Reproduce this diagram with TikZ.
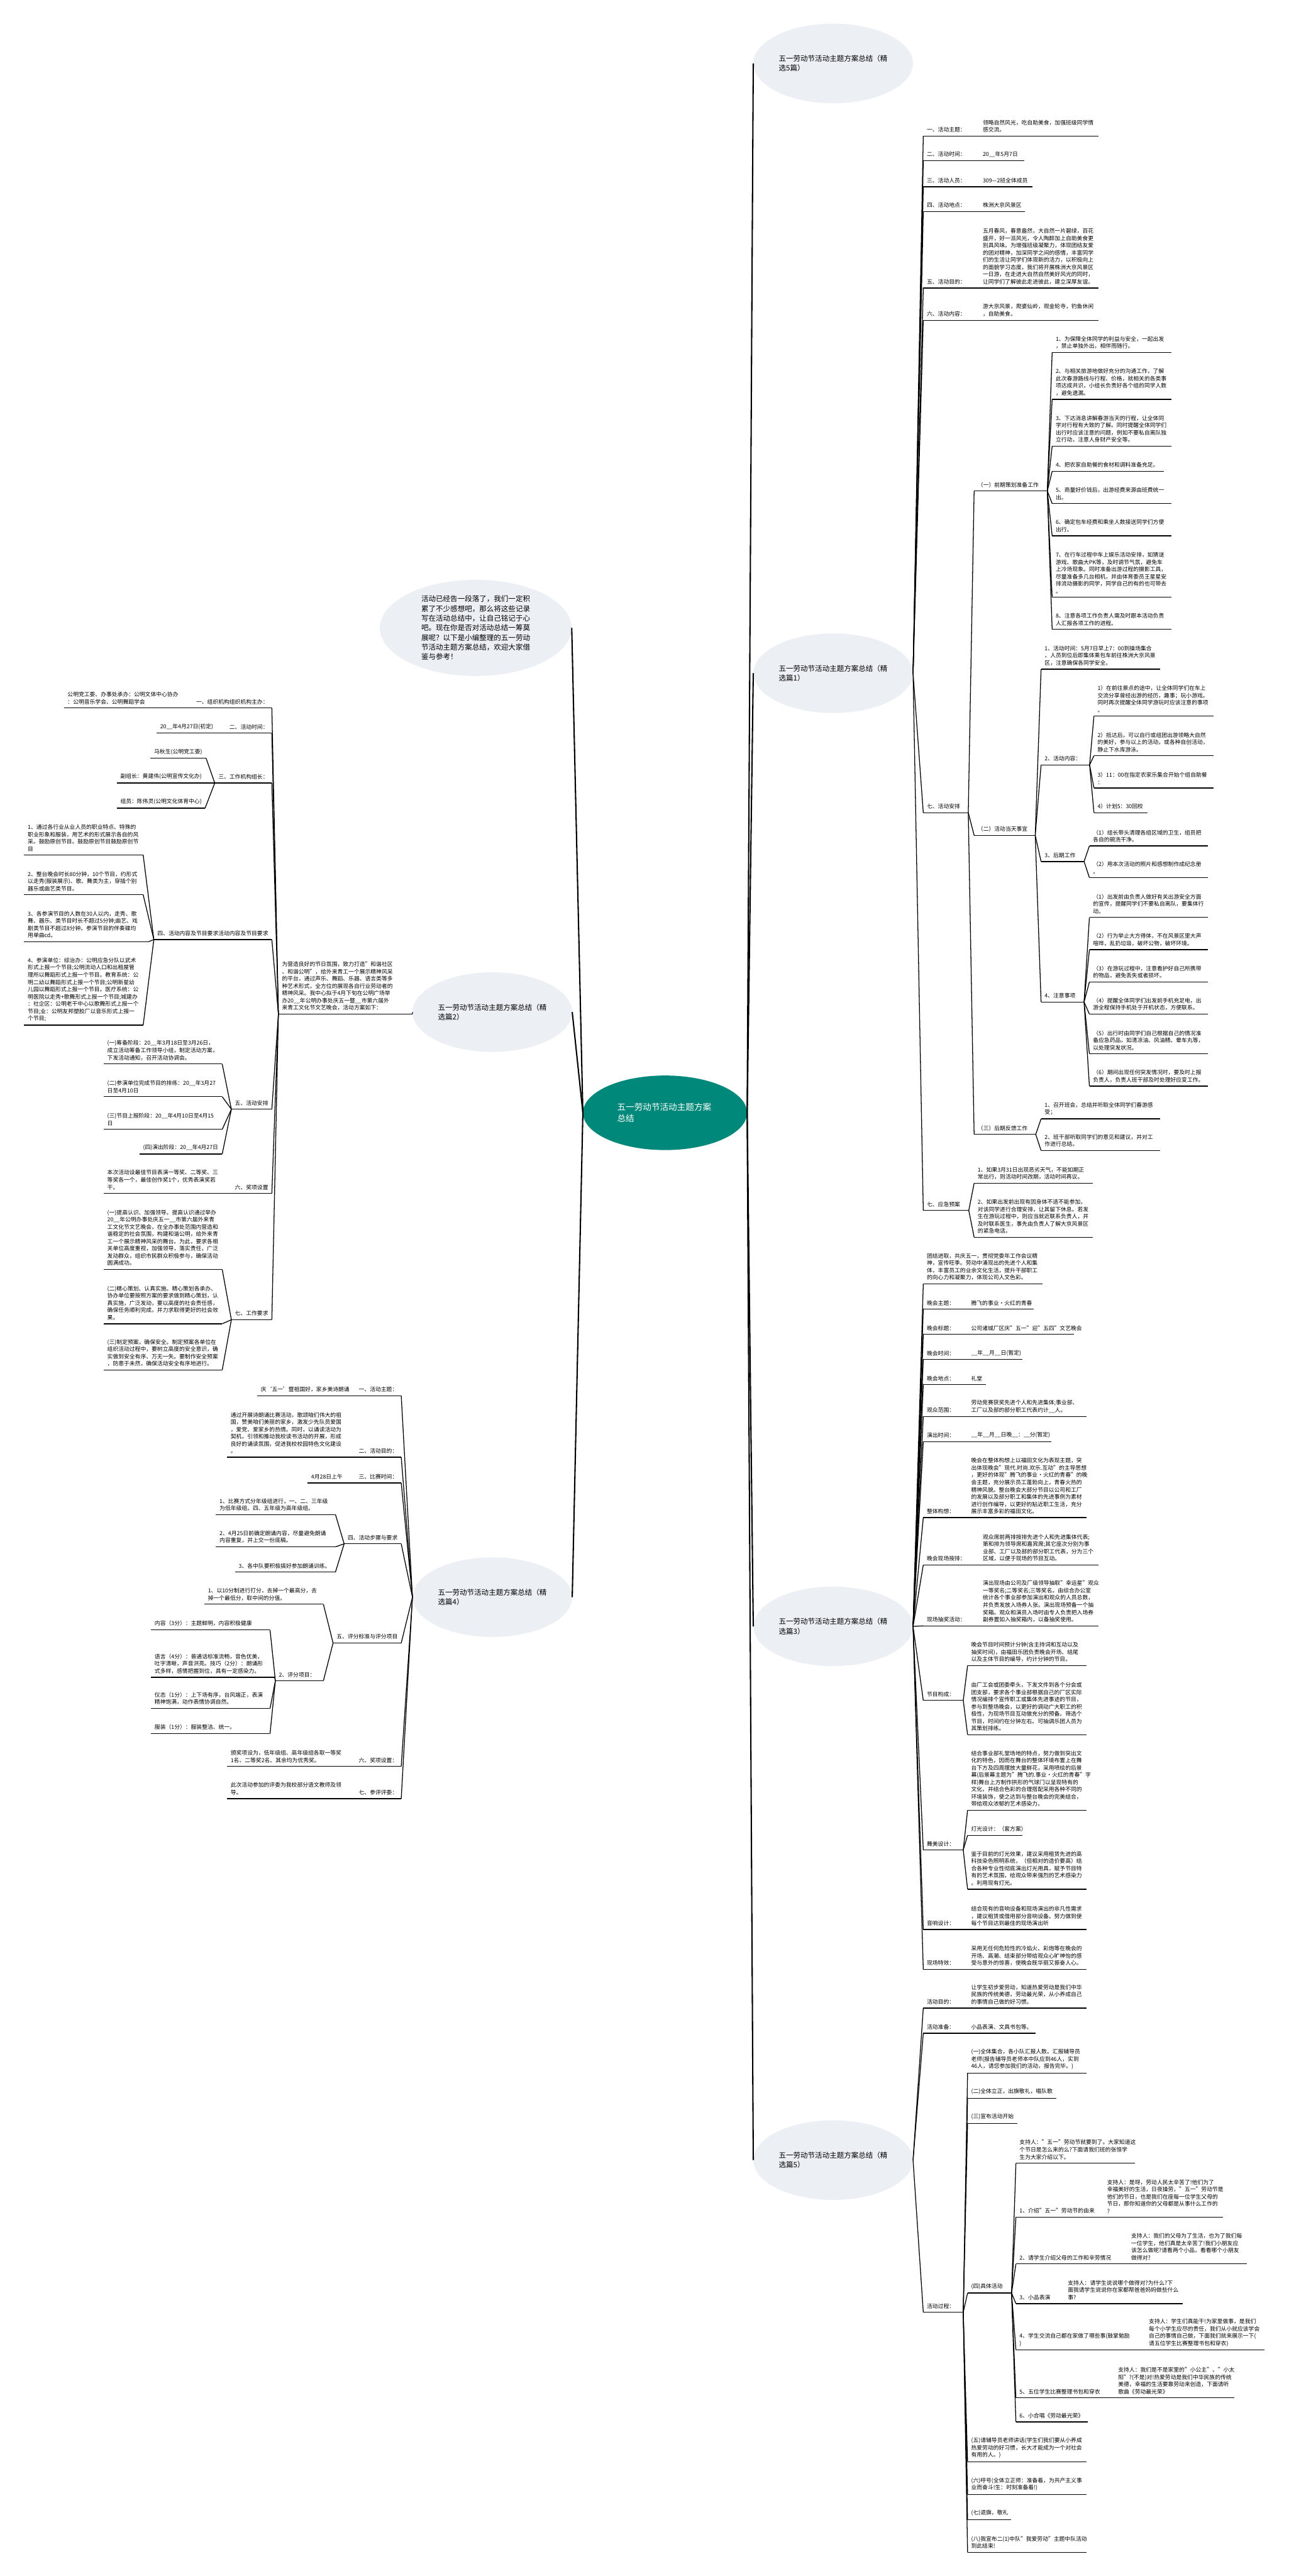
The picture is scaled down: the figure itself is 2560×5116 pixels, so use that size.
\documentclass[tikz,border=0pt]{standalone}
\usepackage{fontspec}
\setmainfont{Noto Sans CJK SC}
\usetikzlibrary{shapes.geometric}
\newcommand\leaftext{\fontsize{11}{14.4}\selectfont}
\newcommand\topictext{\fontsize{14.4}{19.1}\selectfont}
\newcommand\roottext{\fontsize{17}{22}\selectfont}
\definecolor{bubble}{RGB}{236,239,243}
\definecolor{rootfill}{RGB}{0,137,123}
\tikzset{
  rn/.style={anchor=south west, inner xsep=7pt, inner ysep=7pt, align=left, font=\leaftext},
  ln/.style={anchor=south east, inner xsep=7pt, inner ysep=7pt, align=right, font=\leaftext},
  topic/.style={ellipse, fill=bubble, minimum width=317pt, minimum height=158pt, text width=216pt, align=left, font=\topictext, inner sep=1pt},
  link/.style={line width=1.6pt},
  trunk/.style={line width=2.6pt},
}
\begin{document}
\begin{tikzpicture}[x=1pt,y=-1pt]
\fill[white] (0,0) rectangle (2560,5116);
\useasboundingbox (0,0) rectangle (2560,5116);

% centre and branches
\node[ellipse, fill=rootfill, text=white, minimum width=326pt, minimum height=148pt, text width=190pt, align=left, font=\roottext] (root) at (1321,2210) {五一劳动节活动主题方案\\总结};
\node[ellipse, fill=bubble, minimum width=381pt, minimum height=191pt, text width=216pt, align=left, font=\topictext, inner sep=1pt] (intro) at (945,1247) {活动已经告一段落了，我们一定积\\累了不少感想吧，那么将这些记录\\写在活动总结中，让自己铭记于心\\吧。现在你是否对活动总结一筹莫\\展呢？以下是小编整理的五一劳动\\节活动主题方案总结，欢迎大家借\\鉴与参考！};
\node[topic] (b0) at (1655,126) {五一劳动节活动主题方案总结（精\\选5篇）};
\node[topic] (b1) at (1655,1337) {五一劳动节活动主题方案总结（精\\选篇1）};
\node[topic] (b2) at (978,2010) {五一劳动节活动主题方案总结（精\\选篇2）};
\node[topic] (b3) at (1655,3230) {五一劳动节活动主题方案总结（精\\选篇3）};
\node[topic] (b4) at (978,3172) {五一劳动节活动主题方案总结（精\\选篇4）};
\node[topic] (b5) at (1655,4290) {五一劳动节活动主题方案总结（精\\选篇5）};
\foreach \b in {b0,b1,b3,b5} \draw[trunk] (root.east) -- (\b.west);
\foreach \b in {intro,b2,b4} \draw[trunk] (root.west) -- (\b.east);

% branch 1
\node[rn, text width=90pt] (k1a) at (1834,270) {一、活动主题：};
\node[rn, text width=223pt] (k1av) at (1945,270) {领略自然风光，吃自助美食，加强班级同学情\\感交流。};
\node[rn, text width=90pt] (k1b) at (1834,319) {二、活动时间：};
\node[rn, text width=75pt] (k1bv) at (1945,319) {20\_\_年5月7日};
\node[rn, text width=90pt] (k1c) at (1834,371) {三、活动人员：};
\node[rn, text width=92pt] (k1cv) at (1945,371) {309—2班全体成员};
\node[rn, text width=90pt] (k1d) at (1834,420) {四、活动地点：};
\node[rn, text width=77pt] (k1dv) at (1945,420) {株洲大京风景区};
\node[rn, text width=90pt] (k1e) at (1834,572) {五、活动目的：};
\node[rn, text width=223pt] (k1ev) at (1945,572) {五月春风，春意盎然，大自然一片碧绿，百花\\盛开，好一派风光，令人陶醉加上自助美食更\\别具风味。为增强班级凝聚力，体现团结友爱\\的团对精神，加深同学之间的感情，丰富同学\\们的生活让同学们体现新的活力，以积极向上\\的面貌学习态度，我们将开展株洲大京风景区\\一日游，在走进大自然自然美好风光的同时，\\让同学们了解彼此走进彼此，建立深厚友谊。};
\node[rn, text width=90pt] (k1f) at (1834,636) {六、活动内容：};
\node[rn, text width=223pt] (k1fv) at (1945,636) {游大京风景，爬婆仙岭，观金轮寺，钓鱼休闲\\，自助美食。};
\node[rn, text width=75pt] (k1g) at (1834,1614) {七、活动安排};
\node[rn, text width=131pt] (k1g1) at (1935,975) {（一）前期策划准备工作};
\node[rn, text width=222pt] (k1g1a) at (2090,700) {1、为保障全体同学的利益与安全，一起出发\\，禁止单独外出，相伴而随行。};
\node[rn, text width=222pt] (k1g1b) at (2090,793) {2、与相关旅游地做好充分的沟通工作，了解\\此次春游路线与行程、价格，就相关的各类事\\项达成共识，小组长负责好各个组的同学人数\\，避免遗漏。};
\node[rn, text width=222pt] (k1g1c) at (2090,886) {3、下达消息讲解春游当天的行程，让全体同\\学对行程有大致的了解。同时提醒全体同学们\\出行时应该注意的问题，例如不要私自离队独\\立行动，注意人身财产安全等。};
\node[rn, text width=207pt] (k1g1d) at (2090,936) {4、把农家自助餐的食材和调料准备充足。};
\node[rn, text width=222pt] (k1g1e) at (2090,1000) {5、商量好价钱后，出游经费来源由班费统一\\出。};
\node[rn, text width=222pt] (k1g1f) at (2090,1064) {6、确定包车经费和乘坐人数接送同学们方便\\出行。};
\node[rn, text width=222pt] (k1g1g) at (2090,1186) {7、在行车过程中车上娱乐活动安排，如猜谜\\游戏、歌曲大PK等，及时调节气氛，避免车\\上冷场现象。同时准备出游过程的摄影工具，\\尽量准备多几台相机，并由体育委员王星星安\\排流动摄影的同学，同学自己的有的也可带去\\。};
\node[rn, text width=222pt] (k1g1h) at (2090,1250) {8、注意各项工作负责人需及时跟本活动负责\\人汇报各项工作的进程。};
\node[rn, text width=107pt] (k1g2) at (1935,1659) {（二）活动当天事宜};
\node[rn, text width=222pt] (k1g2a) at (2068,1329) {1、活动时间：5月7日早上7：00到操场集合\\，人员到位后即集体乘包车前往株洲大京风景\\区，注意确保各同学安全。};
\node[rn, text width=82pt] (k1g2b) at (2068,1519) {2、活动内容：};
\node[rn, text width=223pt] (k1g2b1) at (2173,1422) {1）在前往景点的途中，让全体同学们在车上\\交流分享曾经出游的经历，趣事；玩小游戏。\\同时再次提醒全体同学游玩时应该注意的事项\\。};
\node[rn, text width=223pt] (k1g2b2) at (2173,1501) {2）抵达后，可以自行或组团出游领略大自然\\的美好，参与以上的活动，或各种自创活动，\\静止下水库游泳。};
\node[rn, text width=223pt] (k1g2b3) at (2173,1565) {3）11：00在指定农家乐集合开始个组自助餐\\：};
\node[rn, text width=92pt] (k1g2b4) at (2173,1614) {4）计划5：30回校};
\node[rn, text width=71pt] (k1g2c) at (2068,1711) {3、后期工作};
\node[rn, text width=221pt] (k1g2c1) at (2164,1680) {（1）组长带头清理各组区域的卫生，组员把\\各自的碗洗干净。};
\node[rn, text width=221pt] (k1g2c2) at (2164,1743) {（2）用本次活动的照片和感想制作成纪念册\\。};
\node[rn, text width=71pt] (k1g2d) at (2068,1990) {4、注意事项};
\node[rn, text width=221pt] (k1g2d1) at (2164,1822) {（1）出发前由负责人做好有关出游安全方面\\的宣传，提醒同学们不要私自离队，要集体行\\动。};
\node[rn, text width=221pt] (k1g2d2) at (2164,1886) {（2）行为举止大方得体，不在风景区里大声\\喧哗，乱扔垃圾，破坏公物，破坏环境。};
\node[rn, text width=221pt] (k1g2d3) at (2164,1950) {（3）在游玩过程中，注意看护好自己所携带\\的物品，避免丢失或者损坏。};
\node[rn, text width=221pt] (k1g2d4) at (2164,2014) {（4）提醒全体同学们出发前手机充足电，出\\游全程保持手机处于开机状态，方便联系。};
\node[rn, text width=221pt] (k1g2d5) at (2164,2093) {（5）出行时由同学们自己根据自己的情况准\\备应急药品，如清凉油、风油精、晕车丸等，\\以处理突发状况。};
\node[rn, text width=221pt] (k1g2d6) at (2164,2157) {（6）期间出现任何突发情况时，要及时上报\\负责人，负责人班干部及时处理好应变工作。};
\node[rn, text width=108pt] (k1g3) at (1935,2253) {（三）后期反馈工作};
\node[rn, text width=222pt] (k1g3a) at (2068,2222) {1、召开班会，总结并听取全体同学们春游感\\受；};
\node[rn, text width=222pt] (k1g3b) at (2068,2285) {2、班干部听取同学们的意见和建议，并对工\\作进行总结。};
\node[rn, text width=76pt] (k1h) at (1834,2404) {七、应急预案};
\node[rn, text width=221pt] (k1h1) at (1935,2350) {1、如果3月31日出现恶劣天气，不能如期正\\常出行，则活动时间改期，活动时间再议。};
\node[rn, text width=221pt] (k1h2) at (1935,2457) {2、如果出发前出现有因身体不适不能参加，\\对该同学进行合理安排，让其留下休息。若发\\生在游玩过程中，则应当就近联系负责人，并\\及时联系医生，事先由负责人了解大京风景区\\的紧急电话。};

% branch 3
\node[rn, text width=222pt] (k3o) at (1834,2550) {团结进取，共庆五一，贯彻党委年工作会议精\\神，宣传旺季。劳动中涌现出的先进个人和集\\体，丰富员工的业余文化生活，提升干部职工\\的向心力和凝聚力，体现公司人文色彩。};
\node[rn, text width=60pt] (k3a) at (1834,2600) {晚会主题：};
\node[rn, text width=117pt] (k3av) at (1922,2600) {腾飞的事业·火红的青春};
\node[rn, text width=60pt] (k3b) at (1834,2650) {晚会标题：};
\node[rn, text width=197pt] (k3bv) at (1922,2650) {公司诸城厂区庆"五一"迎"五四"文艺晚会};
\node[rn, text width=60pt] (k3c) at (1834,2700) {晚会时间：};
\node[rn, text width=95pt] (k3cv) at (1922,2700) {\_\_年\_\_月\_\_日(暂定)};
\node[rn, text width=60pt] (k3d) at (1834,2750) {晚会地点：};
\node[rn, text width=22pt] (k3dv) at (1922,2750) {礼堂};
\node[rn, text width=60pt] (k3e) at (1834,2813) {观众范围：};
\node[rn, text width=222pt] (k3ev) at (1922,2813) {劳动竞赛获奖先进个人和先进集体;事业部、\\工厂以及部的部分职工代表约计\_\_人。};
\node[rn, text width=60pt] (k3f) at (1834,2863) {演出时间：};
\node[rn, text width=152pt] (k3fv) at (1922,2863) {\_\_年\_\_月\_\_日晚\_\_：\_\_分(暂定)};
\node[rn, text width=60pt] (k3g) at (1834,3014) {整体构想：};
\node[rn, text width=222pt] (k3gv) at (1922,3014) {晚会在整体构想上以福田文化为表现主题，突\\出体现晚会"现代.时尚.欢乐.互动"的主导思想\\，更好的体现"腾飞的事业·火红的青春"的晚\\会主题，充分展示员工蓬勃向上，青春火热的\\精神风貌。整台晚会大部分节目以公司和工厂\\的发展以及部分职工和集体的先进事例为素材\\进行创作编导，以更好的贴近职工生活，充分\\展示丰富多彩的福田文化。};
\node[rn, text width=80pt] (k3h) at (1834,3108) {晚会现场按排：};
\node[rn, text width=223pt] (k3hv) at (1945,3108) {观众席前两排按排先进个人和先进集体代表;\\第和排为领导席和嘉宾席;其它座次分别为事\\业部、工厂以及部的部分职工代表，分为三个\\区域，以便于现场的节目互动。};
\node[rn, text width=80pt] (k3i) at (1834,3229) {现场抽奖活动：};
\node[rn, text width=223pt] (k3iv) at (1945,3229) {演出现场由公司及厂级领导抽取"幸运星"观众\\一等奖名;二等奖名;三等奖名。由综合办公室\\统计各个事业部参加演出和观众的人员总数，\\并负责发放入场券人张。演出现场预备一个抽\\奖箱。观众和演员入场时由专人负责把入场券\\副券置如入抽奖箱内，以备抽奖使用。};
\node[rn, text width=65pt] (k3j) at (1834,3377) {节目构成：};
\node[rn, text width=222pt] (k3j1) at (1922,3308) {晚会节目时间预计分钟(含主持词和互动以及\\抽奖时间)，由福田乐团负责晚会开场、结尾\\以及主体节目的编导，约计分钟的节目。};
\node[rn, text width=222pt] (k3j2) at (1922,3445) {由厂工会或团委牵头，下发文件到各个分会或\\团支部，要求各个事业部根据自己的厂区实际\\情况编排个宣传职工或集体先进事迹的节目，\\参与到整场晚会，以更好的调动广大职工的积\\极性，为现场节目互动做充分的预备。筛选个\\节目，时间约在分钟左右。可抽调乐团人员为\\其策划排练。};
\node[rn, text width=65pt] (k3k) at (1834,3674) {舞美设计：};
\node[rn, text width=222pt] (k3k1) at (1922,3595) {结合事业部礼堂场地的特点，努力做到突出文\\化的特色，因而在舞台的整体环境布置上在舞\\台下方及四周摆放大量鲜花，采用喷绘的后景\\幕(后景幕主题为"腾飞的.事业·火红的青春"字\\样)舞台上方制作拱形的气球门以呈现特有的\\文化，并结合色彩的合理搭配采用各种不同的\\环境装饰，使之达到与整台晚会的完美结合，\\带给观众浓郁的艺术感染力。};
\node[rn, text width=95pt] (k3k2) at (1922,3645) {灯光设计：（套方案）};
\node[rn, text width=222pt] (k3k3) at (1922,3752) {鉴于目前的灯光效果，建议采用租赁先进的高\\科技染色照明系统，（但相对的造价要高）结\\合各种专业性彻底演出灯光用具，赋予节目特\\有的艺术氛围，给观众带来强烈的艺术感染力\\。利用现有灯光。};
\node[rn, text width=60pt] (k3l) at (1834,3832) {音响设计：};
\node[rn, text width=222pt] (k3lv) at (1922,3832) {结合现有的音响设备和现场演出的非凡性需求\\，建议租赁或借用部分音响设备。努力做到使\\每个节目达到最佳的现场演出听};
\node[rn, text width=60pt] (k3m) at (1834,3911) {现场特效：};
\node[rn, text width=222pt] (k3mv) at (1922,3911) {采用无任何危险性的冷焰火、彩炮等在晚会的\\开场、高潮、结束部分带给观众心旷神怡的感\\受与意外的惊喜，使晚会既华丽又振奋人心。};

% branch 5
\node[rn, text width=60pt] (k5a) at (1834,3988) {活动目的：};
\node[rn, text width=222pt] (k5av) at (1922,3988) {让学生初步爱劳动，知道热爱劳动是我们中华\\民族的传统美德，劳动最光荣，从小养成自己\\的事情自己做的好习惯。};
\node[rn, text width=60pt] (k5b) at (1834,4038) {活动准备：};
\node[rn, text width=121pt] (k5bv) at (1922,4038) {小品表演、文具书包等。};
\node[rn, text width=65pt] (k5c) at (1834,4592) {活动过程：};
\node[rn, text width=222pt] (k5c1) at (1922,4117) {(一)全体集合，各小队汇报人数。汇报辅导员\\老师(报告辅导员老师本中队应到46人，实到\\46人，请您参加我们的活动，报告完毕。)};
\node[rn, text width=162pt] (k5c2) at (1922,4167) {(二)全体立正，出旗敬礼，唱队歌};
\node[rn, text width=85pt] (k5c3) at (1922,4217) {(三)宣布活动开始};
\node[rn, text width=73pt] (k5c4) at (1922,4554) {(四)具体活动};
\node[rn, text width=222pt] (k5d0) at (2018,4296) {支持人："五一"劳动节就要到了。大家知道这\\个节日是怎么来的么?下面请我们班的张恒学\\生为大家介绍以下。};
\node[rn, text width=160pt] (k5d1) at (2018,4403) {1、介绍"五一"劳动节的由来};
\node[rn, text width=223pt] (k5d1v) at (2192,4403) {支持人：是呀，劳动人民太辛苦了!他们为了\\幸福美好的生活，日夜操劳，"五一"劳动节是\\他们的节日，也是我们在座每一位学生父母的\\节日，那你知道你的父母都是从事什么工作的\\?};
\node[rn, text width=208pt] (k5d2) at (2018,4496) {2、请学生介绍父母的工作和辛劳情况};
\node[rn, text width=223pt] (k5d2v) at (2240,4496) {支持人：我们的父母为了生活，也为了我们每\\一位学生，他们真是太辛苦了!我们小朋友应\\该怎么做呢?请看两个小品，看看哪个小朋友\\做得对?};
\node[rn, text width=82pt] (k5d3) at (2018,4575) {3、小品表演};
\node[rn, text width=221pt] (k5d3v) at (2114,4575) {支持人：请学生说说哪个做得对?为什么?下\\面我请学生说说你在家都帮爸爸妈妈做些什么\\事?};
\node[rn, text width=243pt] (k5d4) at (2018,4667) {4、学生交流自己都在家做了哪些事(鼓掌勉励\\)};
\node[rn, text width=222pt] (k5d4v) at (2275,4667) {支持人：学生们真能干!为家里做事，是我们\\每个小学生应尽的责任，我们从小就应该学会\\自己的事情自己做，下面我们就来展示一下(\\请五位学生比赛整理书包和穿衣)};
\node[rn, text width=182pt] (k5d5) at (2018,4762) {5、五位学生比赛整理书包和穿衣};
\node[rn, text width=223pt] (k5d5v) at (2214,4762) {支持人：我们是不是家里的"小公主"、"小太\\阳"?(不是)对!热爱劳动是我们中华民族的传统\\美德，幸福的生活要靠劳动来创造，下面请听\\歌曲《劳动最光荣》};
\node[rn, text width=129pt] (k5d6) at (2018,4810) {6、小合唱《劳动最光荣》};
\node[rn, text width=222pt] (k5c5) at (1922,4889) {(五)请辅导员老师讲话(学生们我们要从小养成\\热爱劳动的好习惯，长大才能成为一个对社会\\有用的人。)};
\node[rn, text width=222pt] (k5c6) at (1922,4954) {(六)呼号(全体立正师：准备着，为共产主义事\\业而奋斗!生：时刻准备着!)};
\node[rn, text width=72pt] (k5c7) at (1922,5004) {(七)退旗，敬礼};
\node[rn, text width=222pt] (k5c8) at (1922,5069) {(八)我宣布二(1)中队"我爱劳动"主题中队活动\\到此结束!};

% branch 2
\node[rn, text width=252pt] (d2) at (553,2014) {为营造良好的节日氛围，致力打造"和谐社区\\、和谐公明"，给外来青工一个展示精神风采\\的平台，通过声乐、舞蹈、乐器、语言类等多\\种艺术形式，全方位的展现各自行业劳动者的\\精神风采。我中心拟于4月下旬在公明广场举\\办20\_\_年公明办事处庆五一暨\_\_市第六届外\\来青工文化节文艺晚会，活动方案如下：};
\node[ln] (m2a) at (540,1406) {一、组织机构组织机构主办：};
\node[rn, text width=242pt] (m2av) at (127,1406) {公明党工委、办事处承办：公明文体中心协办\\：公明音乐学会、公明舞蹈学会};
\node[ln] (m2b) at (540,1456) {二、活动时间：};
\node[rn, text width=119pt] (m2bv) at (311,1456) {20\_\_年4月27日(初定)};
\node[ln] (m2c) at (540,1555) {三、工作机构组长：};
\node[rn, text width=96pt] (m2c1) at (299,1506) {马秋生(公明党工委)};
\node[rn, text width=172pt] (m2c2) at (232,1555) {副组长：黄建伟(公明宣传文化办)};
\node[rn, text width=161pt] (m2c3) at (232,1605) {组员：陈伟灵(公明文化体育中心)};
\node[ln] (m2d) at (540,1866) {四、活动内容及节目要求活动内容及节目要求};
\node[rn, text width=222pt] (m2d1) at (48,1698) {1、通过各行业从业人员的职业特点、特殊的\\职业形象和服装，用艺术的形式展示各自的风\\采。鼓励原创节目。鼓励原创节目鼓励原创节\\目};
\node[rn, text width=222pt] (m2d2) at (48,1777) {2、整台晚会时长80分钟，10个节目，约形式\\以走秀(服装展示)、歌、舞类为主，穿插个别\\器乐或曲艺类节目。};
\node[rn, text width=233pt] (m2d3) at (48,1870) {3、各参演节目的人数在30人以内，走秀、歌\\舞、器乐、类节目时长不超过5分钟;曲艺、戏\\剧类节目不超过8分钟。参演节目的伴奏碟均\\用单曲cd。};
\node[rn, text width=222pt] (m2d4) at (48,2036) {4、参演单位：综治办：公明应急分队以武术\\形式上报一个节目;公明流动人口和出租屋管\\理所以舞蹈形式上报一个节目。教育系统：公\\明二幼以舞蹈形式上报一个节目;公明新星幼\\儿园以舞蹈形式上报一个节目。医疗系统：公\\明医院以走秀+歌舞形式上报一个节目;城建办\\：社企区：公明老干中心以歌舞形式上报一个\\节目;业：公明友邦塑胶厂以音乐形式上报一\\个节目;};
\node[ln] (m2e) at (540,2203) {五、活动安排};
\node[rn, text width=221pt] (m2e1) at (206,2113) {(一)筹备阶段：20\_\_年3月18日至3月26日，\\成立活动筹备工作领导小组，制定活动方案，\\下发活动通知，召开活动协调会。};
\node[rn, text width=221pt] (m2e2) at (206,2178) {(二)参演单位完成节目的排练：20\_\_年3月27\\日至4月10日};
\node[rn, text width=221pt] (m2e3) at (206,2243) {(三)节目上报阶段：20\_\_年4月10日至4月15\\日};
\node[rn, text width=150pt] (m2e4) at (277,2292) {(四)演出阶段：20\_\_年4月27日};
\node[ln] (m2f) at (540,2370) {六、奖项设置};
\node[rn, text width=235pt] (m2fv) at (206,2370) {本次活动设最佳节目表演一等奖、二等奖、三\\等奖各一个，最佳创作奖1个，优秀表演奖若\\干。};
\node[ln] (m2g) at (540,2621) {七、工作要求};
\node[rn, text width=221pt] (m2g1) at (206,2521) {(一)提高认识、加强领导。提高认识通过举办\\20\_\_年公明办事处庆五一\_\_市第六届外来青\\工文化节文艺晚会，在全办事处范围内营造和\\谐稳定的社会氛围，构建和谐公明，给外来青\\工一个展示精神风采的舞台。为此，要求各相\\关单位高度重视，加强领导，落实责任，广泛\\发动群众，组织市民群众积极参与，确保活动\\圆满成功。};
\node[rn, text width=221pt] (m2g2) at (206,2629) {(二)精心策划、认真实施。精心策划各承办、\\协办单位要按照方案的要求做到精心策划，认\\真实施，广泛发动，要以高度的社会责任感，\\确保任务顺利完成，并力求取得更好的社会效\\果。};
\node[rn, text width=221pt] (m2g3) at (206,2721) {(三)制定预案，确保安全。制定预案各单位在\\组织活动过程中，要树立高度的安全意识，确\\实做到安全有序、万无一失。要制作安全预案\\，防患于未然，确保活动安全有序地进行。};

% branch 4
\node[ln] (m4a) at (797,2772) {一、活动主题：};
\node[rn, text width=182pt] (m4av) at (511,2772) {庆‘五一’暨祖国好，家乡美诗朗诵};
\node[ln] (m4b) at (797,2894) {二、活动目的：};
\node[rn, text width=242pt] (m4bv) at (451,2894) {通过开展诗朗诵比赛活动，歌颂咱们伟大的祖\\国，赞美咱们美丽的家乡，激发少先队员爱国\\，爱党、爱家乡的热情。同时，以诵读活动为\\契机，引领和推动我校读书活动的开展，形成\\良好的诵读氛围，促进我校校园特色文化建设\\。};
\node[ln] (m4c) at (797,2945) {三、比赛时间：};
\node[rn, text width=82pt] (m4cv) at (611,2945) {4月28日上午};
\node[ln] (m4d) at (797,3066) {四、活动步骤与要求};
\node[rn, text width=223pt] (m4d1) at (429,3008) {1、比赛方式分年级组进行，一、二、三年级\\为低年级组。四、五年级为高年级组。};
\node[rn, text width=223pt] (m4d2) at (429,3072) {2、4月25日前确定朗诵内容，尽量避免朗诵\\内容重复，并上交一份底稿。};
\node[rn, text width=185pt] (m4d3) at (467,3122) {3、各中队要积极搞好参加朗诵训练。};
\node[ln] (m4e) at (797,3263) {五、评分标准与评分项目};
\node[rn, text width=222pt] (m4e1) at (406,3186) {1、以10分制进行打分，去掉一个最高分，去\\掉一个最低分，取中间的分值。};
\node[rn, text width=81pt] (m4e2) at (547,3338) {2、评分项目：};
\node[rn, text width=222pt] (m4e2a) at (300,3237) {内容（3分）：主题鲜明，内容积极健康};
\node[rn, text width=231pt] (m4e2b) at (300,3331) {语言（4分）：普通话标准流畅，音色优美，\\吐字清晰，声音洪亮。技巧（2分）：朗诵形\\式多样，感情把握到位，具有一定感染力。};
\node[rn, text width=222pt] (m4e2c) at (300,3393) {仪态（1分）：上下场有序，台风端正，表演\\精神饱满，动作表情协调自然。};
\node[rn, text width=222pt] (m4e2d) at (300,3443) {服装（1分）：服装整洁、统一。};
\node[ln] (m4f) at (797,3508) {六、奖项设置：};
\node[rn, text width=242pt] (m4fv) at (451,3508) {颁奖项设为，低年级组、高年级组各取一等奖\\1名、二等奖2名、其余均为优秀奖。};
\node[ln] (m4g) at (797,3572) {七、参评评委：};
\node[rn, text width=242pt] (m4gv) at (451,3572) {此次活动参加的评委为我校部分语文教师及领\\导。};

% underlines
\foreach \n in {k1a,k1av,k1b,k1bv,k1c,k1cv,k1d,k1dv,k1e,k1ev,k1f,k1fv,k1g,k1g1,k1g1a,k1g1b,k1g1c,k1g1d,k1g1e,k1g1f,k1g1g,k1g1h,k1g2,k1g2a,k1g2b,k1g2b1,k1g2b2,k1g2b3,k1g2b4,k1g2c,k1g2c1,k1g2c2,k1g2d,k1g2d1,k1g2d2,k1g2d3,k1g2d4,k1g2d5,k1g2d6,k1g3,k1g3a,k1g3b,k1h,k1h1,k1h2,
  k3o,k3a,k3av,k3b,k3bv,k3c,k3cv,k3d,k3dv,k3e,k3ev,k3f,k3fv,k3g,k3gv,k3h,k3hv,k3i,k3iv,k3j,k3j1,k3j2,k3k,k3k1,k3k2,k3k3,k3l,k3lv,k3m,k3mv,
  k5a,k5av,k5b,k5bv,k5c,k5c1,k5c2,k5c3,k5c4,k5d0,k5d1,k5d1v,k5d2,k5d2v,k5d3,k5d3v,k5d4,k5d4v,k5d5,k5d5v,k5d6,k5c5,k5c6,k5c7,k5c8,
  d2,m2a,m2av,m2b,m2bv,m2c,m2c1,m2c2,m2c3,m2d,m2d1,m2d2,m2d3,m2d4,m2e,m2e1,m2e2,m2e3,m2e4,m2f,m2fv,m2g,m2g1,m2g2,m2g3,
  m4a,m4av,m4b,m4bv,m4c,m4cv,m4d,m4d1,m4d2,m4d3,m4e,m4e1,m4e2,m4e2a,m4e2b,m4e2c,m4e2d,m4f,m4fv,m4g,m4gv}
  \draw[link] (\n.south west) -- (\n.south east);

% connectors, right side
\foreach \c in {k1a,k1b,k1c,k1d,k1e,k1f,k1g,k1h} \draw[link] (b1.east) -- (\c.south west);
\foreach \c in {k3o,k3a,k3b,k3c,k3d,k3e,k3f,k3g,k3h,k3i,k3j,k3k,k3l,k3m} \draw[link] (b3.east) -- (\c.south west);
\foreach \c in {k5a,k5b,k5c} \draw[link] (b5.east) -- (\c.south west);
\foreach \p/\c in {k1a/k1av,k1b/k1bv,k1c/k1cv,k1d/k1dv,k1e/k1ev,k1f/k1fv,k1g/k1g1,k1g/k1g2,k1g/k1g3,
  k1g1/k1g1a,k1g1/k1g1b,k1g1/k1g1c,k1g1/k1g1d,k1g1/k1g1e,k1g1/k1g1f,k1g1/k1g1g,k1g1/k1g1h,
  k1g2/k1g2a,k1g2/k1g2b,k1g2/k1g2c,k1g2/k1g2d,k1g2b/k1g2b1,k1g2b/k1g2b2,k1g2b/k1g2b3,k1g2b/k1g2b4,
  k1g2c/k1g2c1,k1g2c/k1g2c2,k1g2d/k1g2d1,k1g2d/k1g2d2,k1g2d/k1g2d3,k1g2d/k1g2d4,k1g2d/k1g2d5,k1g2d/k1g2d6,
  k1g3/k1g3a,k1g3/k1g3b,k1h/k1h1,k1h/k1h2,
  k3a/k3av,k3b/k3bv,k3c/k3cv,k3d/k3dv,k3e/k3ev,k3f/k3fv,k3g/k3gv,k3h/k3hv,k3i/k3iv,k3j/k3j1,k3j/k3j2,k3k/k3k1,k3k/k3k2,k3k/k3k3,k3l/k3lv,k3m/k3mv,
  k5a/k5av,k5b/k5bv,k5c/k5c1,k5c/k5c2,k5c/k5c3,k5c/k5c4,k5c/k5c5,k5c/k5c6,k5c/k5c7,k5c/k5c8,
  k5c4/k5d0,k5c4/k5d1,k5c4/k5d2,k5c4/k5d3,k5c4/k5d4,k5c4/k5d5,k5c4/k5d6,k5d1/k5d1v,k5d2/k5d2v,k5d3/k5d3v,k5d4/k5d4v,k5d5/k5d5v}
  \draw[link] (\p.south east) -- (\c.south west);

% connectors, left side
\draw[link] (b2.west) -- (d2.south east);
\foreach \c in {m2a,m2b,m2c,m2d,m2e,m2f,m2g} \draw[link] (d2.south west) -- (\c.south east);
\foreach \c in {m4a,m4b,m4c,m4d,m4e,m4f,m4g} \draw[link] (b4.west) -- (\c.south east);
\foreach \p/\c in {m2a/m2av,m2b/m2bv,m2c/m2c1,m2c/m2c2,m2c/m2c3,m2d/m2d1,m2d/m2d2,m2d/m2d3,m2d/m2d4,
  m2e/m2e1,m2e/m2e2,m2e/m2e3,m2e/m2e4,m2f/m2fv,m2g/m2g1,m2g/m2g2,m2g/m2g3,
  m4a/m4av,m4b/m4bv,m4c/m4cv,m4d/m4d1,m4d/m4d2,m4d/m4d3,m4e/m4e1,m4e/m4e2,
  m4e2/m4e2a,m4e2/m4e2b,m4e2/m4e2c,m4e2/m4e2d,m4f/m4fv,m4g/m4gv}
  \draw[link] (\p.south west) -- (\c.south east);
\end{tikzpicture}
\end{document}
